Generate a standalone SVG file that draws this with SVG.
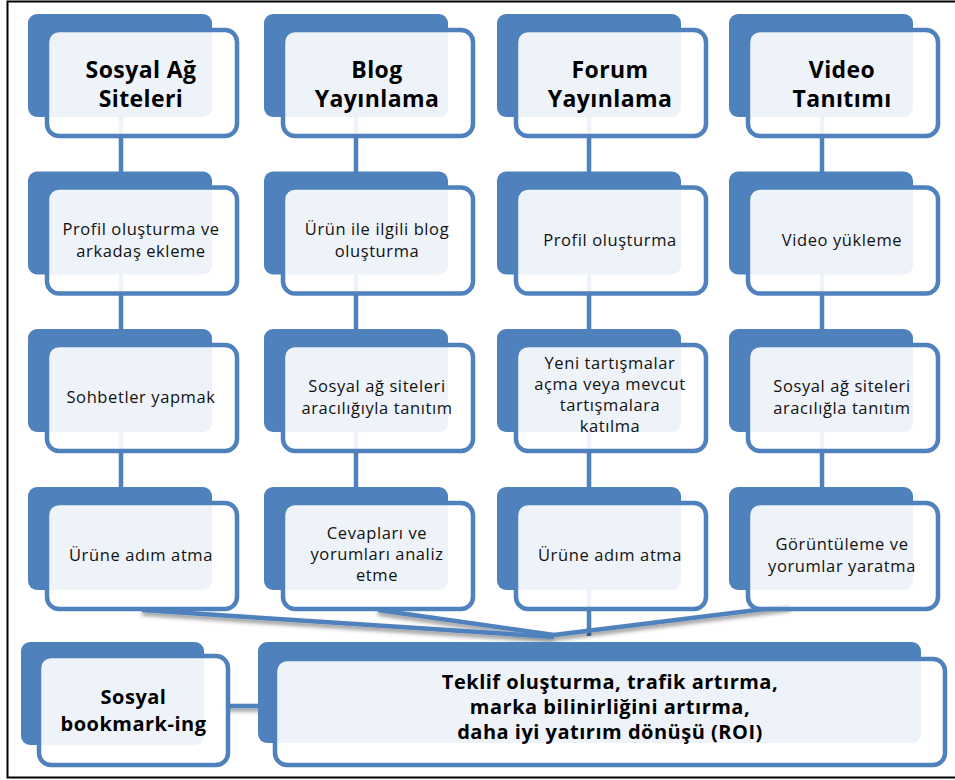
<svg xmlns="http://www.w3.org/2000/svg" width="955" height="780" viewBox="0 0 955 780">
  <defs>
    <filter id="lineShadow" x="-5%" y="-50%" width="110%" height="300%">
      <feDropShadow dx="0" dy="3" stdDeviation="2" flood-color="#000" flood-opacity="0.45"/>
    </filter>
    <style>
      .back { fill: #4F81BD; }
      .front { fill: #FFFFFF; fill-opacity: 0.9; stroke: #4F81BD; stroke-width: 4.5; }
      .link { fill: none; stroke: #4F81BD; stroke-width: 4.5; stroke-linecap: butt; }
      .title { font-family: "Open Sans", "Noto Sans", "Liberation Sans", sans-serif; font-weight: 700; font-size: 23px; letter-spacing: 0.4px; fill: #000; text-anchor: middle; }
      .body { font-family: "Open Sans", "Noto Sans", "Liberation Sans", sans-serif; font-weight: 400; font-size: 16.5px; letter-spacing: 0.6px; fill: #111; text-anchor: middle; }
      .big { font-family: "Open Sans", "Noto Sans", "Liberation Sans", sans-serif; font-weight: 700; font-size: 20px; letter-spacing: 0.5px; fill: #000; text-anchor: middle; }
    </style>
  </defs>

  <rect x="0" y="0" width="955" height="780" fill="#FFFFFF"/>
  <!-- outer frame -->
  <rect x="7.5" y="1.5" width="965" height="776" fill="none" stroke="#000" stroke-width="2"/>

  <!-- connectors (drawn beneath the boxes) -->
  <g id="connectors">
    <line class="link" x1="121" y1="60" x2="121" y2="560"/>
    <line class="link" x1="356" y1="60" x2="356" y2="560"/>
    <line class="link" x1="589" y1="60" x2="589" y2="636"/>
    <line class="link" x1="822" y1="60" x2="822" y2="560"/>
    <g filter="url(#lineShadow)">
      <polyline class="link" points="142,610 554,637"/>
      <polyline class="link" points="378,610 554,635"/>
      <polyline class="link" points="790,606 554,635"/>
      <line class="link" x1="226" y1="706" x2="262" y2="706"/>
    </g>
  </g>

  <!-- column 1 -->
  <g id="sosyal-ag">
    <rect class="back" x="28" y="14" width="184" height="103" rx="9"/>
    <rect class="front" x="47" y="30" width="190" height="106" rx="12"/>
    <text class="title" x="141" y="78">Sosyal Ağ</text>
    <text class="title" x="141" y="107">Siteleri</text>
  </g>
  <g id="profil-arkadas">
    <rect class="back" x="28" y="171.5" width="184" height="103" rx="9"/>
    <rect class="front" x="47" y="187.5" width="190" height="106" rx="12"/>
    <text class="body" x="141" y="235">Profil oluşturma ve</text>
    <text class="body" x="141" y="257">arkadaş ekleme</text>
  </g>
  <g id="sohbet">
    <rect class="back" x="28" y="329" width="184" height="103" rx="9"/>
    <rect class="front" x="47" y="345" width="190" height="106" rx="12"/>
    <text class="body" x="141" y="403">Sohbetler yapmak</text>
  </g>
  <g id="urune-adim-1">
    <rect class="back" x="28" y="487" width="184" height="103" rx="9"/>
    <rect class="front" x="47" y="503" width="190" height="106" rx="12"/>
    <text class="body" x="141" y="561">Ürüne adım atma</text>
  </g>

  <!-- column 2 -->
  <g id="blog">
    <rect class="back" x="264" y="14" width="184" height="103" rx="9"/>
    <rect class="front" x="283" y="30" width="190" height="106" rx="12"/>
    <text class="title" x="377" y="78">Blog</text>
    <text class="title" x="377" y="107">Yayınlama</text>
  </g>
  <g id="blog-olusturma">
    <rect class="back" x="264" y="171.5" width="184" height="103" rx="9"/>
    <rect class="front" x="283" y="187.5" width="190" height="106" rx="12"/>
    <text class="body" x="377" y="235">Ürün ile ilgili blog</text>
    <text class="body" x="377" y="257">oluşturma</text>
  </g>
  <g id="blog-tanitim">
    <rect class="back" x="264" y="329" width="184" height="103" rx="9"/>
    <rect class="front" x="283" y="345" width="190" height="106" rx="12"/>
    <text class="body" x="377" y="392">Sosyal ağ siteleri</text>
    <text class="body" x="377" y="414">aracılığıyla tanıtım</text>
  </g>
  <g id="cevaplar">
    <rect class="back" x="264" y="487" width="184" height="103" rx="9"/>
    <rect class="front" x="283" y="503" width="190" height="106" rx="12"/>
    <text class="body" x="377" y="539">Cevapları ve</text>
    <text class="body" x="377" y="560">yorumları analiz</text>
    <text class="body" x="377" y="581">etme</text>
  </g>

  <!-- column 3 -->
  <g id="forum">
    <rect class="back" x="497" y="14" width="184" height="103" rx="9"/>
    <rect class="front" x="516" y="30" width="190" height="106" rx="12"/>
    <text class="title" x="610" y="78">Forum</text>
    <text class="title" x="610" y="107">Yayınlama</text>
  </g>
  <g id="forum-profil">
    <rect class="back" x="497" y="171.5" width="184" height="103" rx="9"/>
    <rect class="front" x="516" y="187.5" width="190" height="106" rx="12"/>
    <text class="body" x="610" y="246">Profil oluşturma</text>
  </g>
  <g id="tartismalar">
    <rect class="back" x="497" y="329" width="184" height="103" rx="9"/>
    <rect class="front" x="516" y="345" width="190" height="106" rx="12"/>
    <text class="body" x="610" y="369">Yeni tartışmalar</text>
    <text class="body" x="610" y="390">açma veya mevcut</text>
    <text class="body" x="610" y="411">tartışmalara</text>
    <text class="body" x="610" y="432">katılma</text>
  </g>
  <g id="urune-adim-2">
    <rect class="back" x="497" y="487" width="184" height="103" rx="9"/>
    <rect class="front" x="516" y="503" width="190" height="106" rx="12"/>
    <text class="body" x="610" y="561">Ürüne adım atma</text>
  </g>

  <!-- column 4 -->
  <g id="video">
    <rect class="back" x="729" y="14" width="184" height="103" rx="9"/>
    <rect class="front" x="748" y="30" width="190" height="106" rx="12"/>
    <text class="title" x="842" y="78">Video</text>
    <text class="title" x="842" y="107">Tanıtımı</text>
  </g>
  <g id="video-yukleme">
    <rect class="back" x="729" y="171.5" width="184" height="103" rx="9"/>
    <rect class="front" x="748" y="187.5" width="190" height="106" rx="12"/>
    <text class="body" x="842" y="246">Video yükleme</text>
  </g>
  <g id="video-tanitim">
    <rect class="back" x="729" y="329" width="184" height="103" rx="9"/>
    <rect class="front" x="748" y="345" width="190" height="106" rx="12"/>
    <text class="body" x="842" y="392">Sosyal ağ siteleri</text>
    <text class="body" x="842" y="414">aracılığla tanıtım</text>
  </g>
  <g id="goruntuleme">
    <rect class="back" x="729" y="487" width="184" height="103" rx="9"/>
    <rect class="front" x="748" y="503" width="190" height="106" rx="12"/>
    <text class="body" x="842" y="550">Görüntüleme ve</text>
    <text class="body" x="842" y="572">yorumlar yaratma</text>
  </g>

  <!-- bottom row -->
  <g id="bookmarking">
    <rect class="back" x="21" y="642" width="183" height="103" rx="9"/>
    <rect class="front" x="39" y="656" width="189" height="109" rx="12"/>
    <text class="big" x="133.5" y="704">Sosyal</text>
    <text class="big" x="133.5" y="731">bookmark-ing</text>
  </g>
  <g id="sonuc">
    <rect class="back" x="258" y="642" width="663" height="101" rx="9"/>
    <rect class="front" x="275" y="659" width="670" height="106" rx="12"/>
    <text class="big" x="610" y="689">Teklif oluşturma, trafik artırma,</text>
    <text class="big" x="610" y="714">marka bilinirliğini artırma,</text>
    <text class="big" x="610" y="739">daha iyi yatırım dönüşü (ROI)</text>
  </g>
</svg>
